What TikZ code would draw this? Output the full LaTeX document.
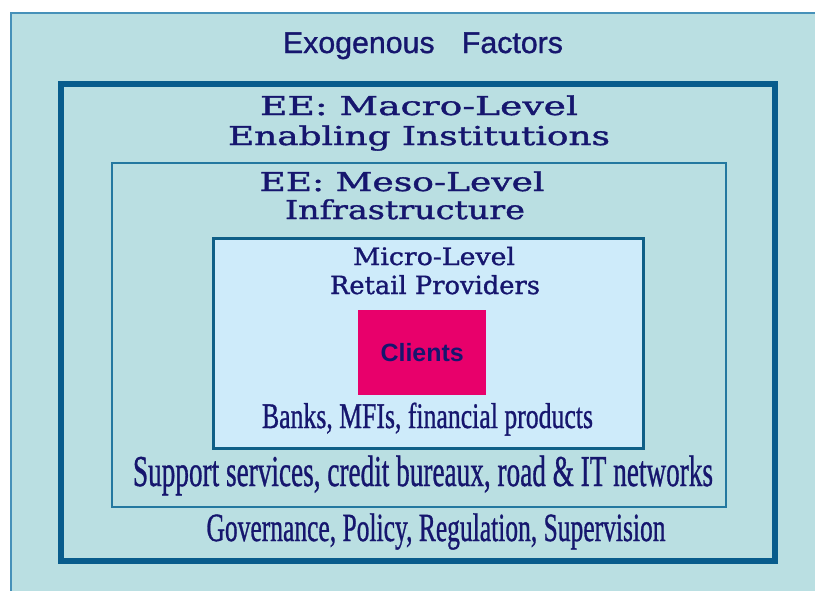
\documentclass[tikz,border=0pt]{standalone}
\usepackage{fontspec}
\usepackage{graphicx}
\newfontfamily\exofont[FakeBold=1]{Liberation Sans}
\newfontfamily\clientfont{Liberation Sans}
\newfontfamily\wideserif[FakeBold=1.2]{DejaVu Serif}
\newfontfamily\narrowserif[FakeBold=1]{Liberation Serif}
\definecolor{bgteal}{RGB}{186,223,226}
\definecolor{outerline}{RGB}{70,145,185}
\definecolor{macroline}{RGB}{8,92,140}
\definecolor{mesoline}{RGB}{35,120,160}
\definecolor{microline}{RGB}{15,95,135}
\definecolor{microfill}{RGB}{206,235,250}
\definecolor{clientfill}{RGB}{232,0,107}
\definecolor{navytext}{RGB}{22,22,110}
\newcommand{\fitw}[2]{\resizebox{#1pt}{\height}{#2}}
\tikzset{
  levelbox/.style={anchor=north west, inner sep=0pt},
  lbl/.style={anchor=base, inner sep=0pt, text=navytext},
}
\begin{document}
\begin{tikzpicture}[x=1pt,y=-1pt]
\useasboundingbox (0,0) rectangle (815,590);
\fill[white] (0,0) rectangle (815,590);
\node[levelbox, draw=outerline, fill=bgteal, line width=1.8pt, minimum width=830pt, minimum height=600pt] (exo) at (10,12) {};
\node[levelbox, draw=macroline, line width=6pt, minimum width=714pt, minimum height=477pt] (macro) at (58,81) {};
\node[levelbox, draw=mesoline, line width=2pt, minimum width=614pt, minimum height=344pt] (meso) at (111,162) {};
\node[levelbox, draw=microline, fill=microfill, line width=3pt, minimum width=430pt, minimum height=210pt] (micro) at (212,237) {};
\node[levelbox, fill=clientfill, minimum width=128pt, minimum height=85pt, text=navytext, font=\clientfont\bfseries\fontsize{25}{25}\selectfont] (clients) at (358,310) {Clients};
% labels
\node[lbl] (exolbl) at (423,53) {\fitw{280}{\fontsize{30}{30}\exofont Exogenous\hspace{0.9em}Factors}};
\node[lbl] (macro1) at (419,115) {\fitw{318}{\fontsize{26}{26}\wideserif EE: Macro-Level}};
\node[lbl] (macro2) at (419,145) {\fitw{382}{\fontsize{26}{26}\wideserif Enabling Institutions}};
\node[lbl] (meso1) at (402,191) {\fitw{285}{\fontsize{26}{26}\wideserif EE: Meso-Level}};
\node[lbl] (meso2) at (405,219) {\fitw{240}{\fontsize{26}{26}\wideserif Infrastructure}};
\node[lbl] (micro1) at (434,265) {\fitw{162}{\fontsize{24}{24}\wideserif Micro-Level}};
\node[lbl] (micro2) at (435,294) {\fitw{210}{\fontsize{25}{25}\wideserif Retail Providers}};
\node[lbl] (banks) at (427.5,428) {\fitw{331}{\fontsize{36}{36}\narrowserif Banks, MFIs, financial products}};
\node[lbl] (support) at (423,486) {\fitw{580}{\fontsize{44}{44}\narrowserif Support services, credit bureaux, road \& IT networks}};
\node[lbl] (gov) at (436,541) {\fitw{459}{\fontsize{40}{40}\narrowserif Governance, Policy, Regulation, Supervision}};
\end{tikzpicture}
\end{document}
